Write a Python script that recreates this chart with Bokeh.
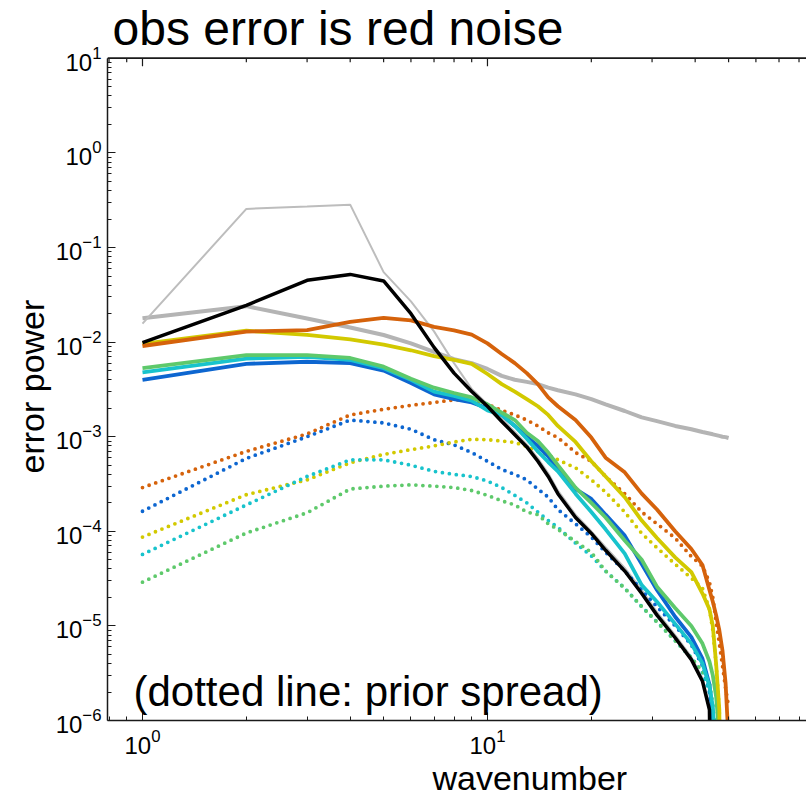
from bokeh.plotting import figure
from bokeh.models import FixedTicker, Label, Range1d, Title, Span
from bokeh.embed import file_html
from bokeh.resources import INLINE

# ---------------- data ----------------
wavenumber = [1, 2, 3, 4, 5, 6, 7, 8, 9, 10, 11, 12, 13, 14, 15, 16,
              18, 20, 22, 25, 28, 31, 35, 39, 42, 44, 45, 46, 47, 48, 49, 50]

gray_thick = [0.0179, 0.024, 0.0178, 0.0143, 0.0119, 0.0097, 0.0079, 0.0066, 0.0060, 0.0052,
              0.0044, 0.0040, 0.0038, 0.0036, 0.0033, 0.0031, 0.0028, 0.0025, 0.0022, 0.00187,
              0.0016, 0.00146, 0.0013, 0.0012, 0.00112, 0.00108, 0.00106, 0.00104, 0.00102,
              0.0010, 0.00099, 0.00097]
gray_thin = [0.0157, 0.256, 0.271, 0.284, 0.055, 0.027, 0.013, 0.006, 0.0032, 0.0022,
             0.00155, 0.00112, 0.00083, 0.00059, 0.00041, 0.00027, 0.00015, 1.0e-4, 6.8e-5,
             4.1e-5, 2.4e-5, 1.4e-5, 8e-6, 4.7e-6, 2.8e-6, 1.4e-6, 1e-9]
black = [0.0099, 0.0245, 0.045, 0.052, 0.0443, 0.020, 0.0088, 0.0047, 0.0030, 0.0021,
         0.00145, 0.00105, 0.00078, 0.00055, 0.00038, 0.00025, 0.00014, 9.5e-5, 6.3e-5,
         3.8e-5, 2.2e-5, 1.3e-5, 7.5e-6, 4.4e-6, 2.6e-6, 1.3e-6, 1e-9]
orange = [0.0091, 0.0129, 0.0134, 0.0164, 0.018, 0.017, 0.0145, 0.0133, 0.012, 0.0097,
          0.0075, 0.006, 0.0047, 0.0036, 0.0026, 0.0021, 0.0015, 0.00098, 0.0006, 0.00042,
          0.00025, 0.00017, 0.0001, 6.5e-5, 4.4e-5, 2.4e-5, 1.8e-5, 1.3e-5, 9e-6, 5.5e-6,
          2.5e-6, 6e-7]
yellow = [0.0096, 0.0132, 0.0119, 0.0107, 0.0094, 0.0082, 0.0071, 0.0065, 0.0059, 0.0046,
          0.0036, 0.0030, 0.0025, 0.0021, 0.0017, 0.0013, 0.00088, 0.00055, 0.00038, 0.00023,
          0.00013, 8.5e-5, 5.3e-5, 3.7e-5, 2.2e-5, 1.5e-5, 1e-5, 4e-6, 1.3e-6, 1e-9]
green = [0.0053, 0.0073, 0.0073, 0.0068, 0.0055, 0.0041, 0.0033, 0.0029, 0.0026, 0.0022,
         0.0018, 0.0015, 0.0011, 0.0009, 0.00068, 0.0005, 0.00029, 0.0002, 0.00014, 8e-5,
         5e-5, 2.6e-5, 1.55e-5, 1e-5, 6.5e-6, 4.2e-6, 3e-6, 1.8e-6, 7e-7, 1e-9]
cyan = [0.0048, 0.0067, 0.0070, 0.0065, 0.0053, 0.0040, 0.0030, 0.0027, 0.0024, 0.0019,
        0.0017, 0.0013, 0.00095, 0.0007, 0.00054, 0.00043, 0.00025, 0.00016, 0.000105, 5.8e-5,
        2.7e-5, 1.8e-5, 1.05e-5, 6.5e-6, 4e-6, 2.3e-6, 1.4e-6, 4e-7, 1e-9]
blue = [0.0040, 0.0059, 0.0062, 0.0060, 0.0050, 0.0037, 0.0028, 0.0025, 0.0023, 0.0020,
        0.0017, 0.0013, 0.0010, 0.0008, 0.00062, 0.00045, 0.00028, 0.00022, 0.00015, 9e-5,
        4.5e-5, 2.4e-5, 1.25e-5, 7.6e-6, 4.5e-6, 2.4e-6, 1.1e-6, 1e-9]

orange_dot = [0.00029, 0.0007, 0.00107, 0.0017, 0.00195, 0.00215, 0.0023, 0.00245, 0.00245,
              0.0022, 0.0019, 0.0017, 0.0015, 0.0013, 0.0011, 0.00098, 0.00068, 0.00055,
              0.00038, 0.00025, 0.00016, 0.00012, 8.5e-5, 5.4e-5, 4.3e-5, 2.9e-5, 2e-5,
              1.1e-5, 6.5e-6, 3.8e-6, 2.2e-6, 1.4e-6]
blue_dot = [0.000163, 0.00059, 0.001, 0.0015, 0.0014, 0.0012, 0.00093, 0.00082, 0.00068,
            0.00055, 0.00045, 0.0004, 0.00035, 0.00028, 0.00023, 0.00017, 0.00012, 8.7e-5,
            6e-5, 3.8e-5, 2.4e-5, 1.6e-5, 1e-5, 6.3e-6, 3.8e-6, 2e-6, 9e-7, 1e-9]
yellow_dot = [8.7e-5, 0.000244, 0.00035, 0.00053, 0.00065, 0.00073, 0.0008, 0.00088, 0.00094,
              0.00093, 0.0009, 0.00087, 0.00079, 0.0007, 0.00064, 0.00057, 0.00047, 0.00035,
              0.00026, 0.00016, 9.5e-5, 6.7e-5, 4.5e-5, 3.2e-5, 2.5e-5, 1.5e-5, 9e-6, 4e-6,
              1.3e-6, 1e-9]
cyan_dot = [5.7e-5, 0.00019, 0.00038, 0.00057, 0.00057, 0.0005, 0.00043, 0.0004, 0.00038,
            0.00034, 0.00029, 0.00024, 0.0002, 0.00016, 0.00013, 0.00011, 7.5e-5, 5.5e-5,
            3.8e-5, 2.5e-5, 1.6e-5, 1.1e-5, 7e-6, 4.6e-6, 3.2e-6, 2e-6, 1e-6, 1e-9]
green_dot = [2.9e-5, 9.6e-5, 0.000157, 0.00028, 0.0003, 0.00031, 0.0003, 0.00029, 0.00027,
             0.00024, 0.00021, 0.00019, 0.00016, 0.00015, 0.00012, 0.000105, 7.8e-5, 6e-5,
             3.8e-5, 2.5e-5, 1.6e-5, 1.1e-5, 7e-6, 4.6e-6, 3.3e-6, 2.5e-6, 1.5e-6, 6e-7, 1e-9]

x_major = [1, 10, 100]
y_major = [1e-6, 1e-5, 1e-4, 1e-3, 1e-2, 1e-1, 1e0, 1e1]

title_text = "obs error is red noise"
note_text = "(dotted line: prior spread)"
x_label = "wavenumber"
y_label = "error power"

# ---------------- layout constants ----------------
FONT = "Liberation Sans"
W, H = 806, 796
LEFT, BOTTOM = 107, 74
BOX_TOP_PX = 58                    # the axes box top sits 58 px below the canvas top
Y_LO, Y_HI = 1e-6, 10.0            # axes box limits
X_LO, X_HI = 0.7917, 84.1
FRAME_H = H - BOTTOM
PX_PER_DEC = (FRAME_H - BOX_TOP_PX) / 7.0
Y_FRAME_TOP = Y_HI * 10 ** (BOX_TOP_PX / PX_PER_DEC)   # frame extends above the box for the title

p = figure(width=W, height=H, x_axis_type="log", y_axis_type="log",
           x_range=Range1d(X_LO, X_HI), y_range=Range1d(Y_LO, Y_FRAME_TOP),
           output_backend="svg", toolbar_location=None,
           min_border_left=LEFT, min_border_right=0, min_border_top=0, min_border_bottom=BOTTOM)
p.outline_line_color = None
p.grid.visible = False
p.background_fill_color = "white"
p.border_fill_color = "white"

x_minor = [m * d for d in (0.1, 1, 10) for m in range(2, 10)]
y_minor = [m * 10.0 ** e for e in range(-6, 1) for m in range(2, 10)]
xt = FixedTicker(ticks=x_major, minor_ticks=x_minor)
yt = FixedTicker(ticks=y_major, minor_ticks=y_minor)

AX_COL = "#1a1a1a"
for ax in (p.xaxis + p.yaxis):
    ax.axis_line_color = AX_COL
    ax.axis_line_width = 1.5
    ax.major_tick_in = 8
    ax.major_tick_out = 0
    ax.minor_tick_in = 4
    ax.minor_tick_out = 0
    ax.major_tick_line_color = AX_COL
    ax.minor_tick_line_color = AX_COL
    ax.major_label_text_font = FONT
    ax.major_label_text_font_size = "24px"
    ax.major_label_text_color = "black"

p.xaxis.ticker = xt
p.yaxis.ticker = yt
p.yaxis.bounds = (Y_LO, Y_HI)
p.xaxis.major_label_standoff = 8
p.yaxis.major_label_standoff = 6

# axis titles as Title annotations (offset along the box, as in the reference)
yl = Title(text=y_label, align="left", offset=247, text_font=FONT,
           text_font_size="34px", text_font_style="normal", text_color="black", standoff=4)
p.add_layout(yl, "left")
xl = Title(text=x_label, align="left", offset=325, text_font=FONT,
           text_font_size="34px", text_font_style="normal", text_color="black", standoff=0)
p.add_layout(xl, "below")

# top edge of the axes box with inward ticks
p.add_layout(Span(location=Y_HI, dimension="width", line_color=AX_COL, line_width=1.5))
p.line([X_LO, X_HI], [Y_HI, Y_HI], line_color=AX_COL, line_width=1.5)
maj_len = 10 ** (8 / PX_PER_DEC)
min_len = 10 ** (4 / PX_PER_DEC)
p.segment(x0=x_major, x1=x_major, y0=[Y_HI] * len(x_major), y1=[Y_HI / maj_len] * len(x_major),
          line_color=AX_COL, line_width=1.2)
p.segment(x0=x_minor, x1=x_minor, y0=[Y_HI] * len(x_minor), y1=[Y_HI / min_len] * len(x_minor),
          line_color=AX_COL, line_width=1.2)

# ---------------- lines ----------------
def n(vals):
    return wavenumber[:len(vals)]

p.line(n(gray_thick), gray_thick, line_color="#b4b4b4", line_width=4)
p.line(n(gray_thin), gray_thin, line_color="#bdbdbd", line_width=2)

dot = dict(line_dash="0 7", line_cap="round", line_width=3.8)
p.line(n(orange_dot), orange_dot, line_color="#d5620b", **dot)
p.line(n(blue_dot), blue_dot, line_color="#0d66d0", **dot)
p.line(n(yellow_dot), yellow_dot, line_color="#d2c900", **dot)
p.line(n(cyan_dot), cyan_dot, line_color="#18c3cc", **dot)
p.line(n(green_dot), green_dot, line_color="#5ec96b", **dot)

p.line(n(blue), blue, line_color="#0d66d0", line_width=3.8)
p.line(n(cyan), cyan, line_color="#18c3cc", line_width=3.8)
p.line(n(green), green, line_color="#5ec96b", line_width=3.8)
p.line(n(yellow), yellow, line_color="#d2c900", line_width=3.8)
p.line(n(orange), orange, line_color="#d5620b", line_width=3.8)
p.line(n(black), black, line_color="black", line_width=3.5)

# ---------------- texts inside the frame ----------------
p.add_layout(Label(x=5, y=FRAME_H - 30, x_units="screen", y_units="screen", text=title_text,
                   text_font=FONT, text_font_size="48px", text_color="black",
                   text_baseline="alphabetic", text_align="left"))
p.add_layout(Label(x=26, y=29, x_units="screen", y_units="screen", text=note_text,
                   text_font=FONT, text_font_size="42px", text_color="black",
                   text_baseline="alphabetic", text_align="left"))

open("out.html", "w").write(file_html(p, INLINE))
